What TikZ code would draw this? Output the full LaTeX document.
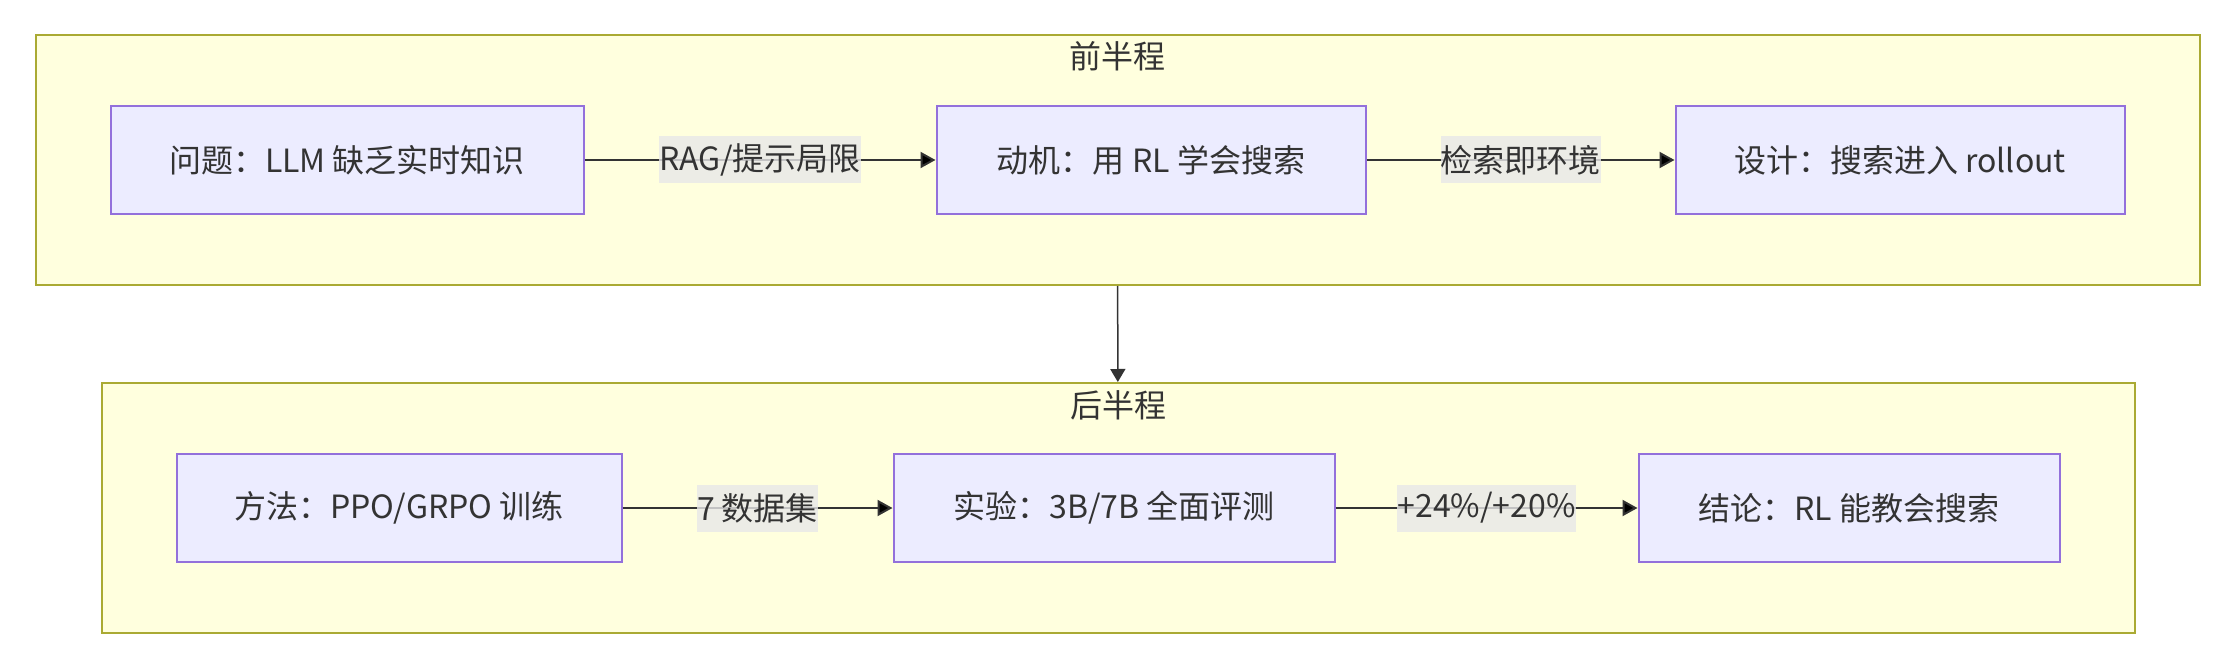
\documentclass[tikz,border=0pt]{standalone}
\usepackage{fontspec}
\setmainfont{Noto Sans CJK SC}
\usetikzlibrary{positioning,fit,backgrounds,arrows.meta}
\definecolor{clfill}{HTML}{FFFFDE}
\definecolor{cldraw}{HTML}{AAAA33}
\definecolor{ndfill}{HTML}{ECECFF}
\definecolor{nddraw}{HTML}{9370DB}
\definecolor{ink}{HTML}{333333}
\definecolor{lblbg}{HTML}{E8E8E8}

\begin{document}
\begin{tikzpicture}[x=1pt,y=-1pt,font=\fontsize{32}{40}\selectfont,text=ink,
		box/.style={draw=nddraw,fill=ndfill,line width=2pt,minimum height=108pt,inner sep=0pt},
		cluster/.style={draw=cldraw,fill=clfill,line width=2pt,inner xsep=74pt,inner ysep=70pt},
		lbl/.style={fill=lblbg,fill opacity=0.8,text opacity=1,inner xsep=0pt,inner ysep=0pt,minimum height=47pt},
		link/.style={draw=ink,line width=2pt,-{Triangle[length=15pt,width=16pt]}}]
		\useasboundingbox (0,0) rectangle (2238,668);
		% first half
		\node[box,minimum width=473pt](prob) at (347,160) {问题：LLM 缺乏实时知识};
		\node[box,minimum width=429pt](motiv)[right=351pt of prob] {动机：用 RL 学会搜索};
		\node[box,minimum width=449pt](design)[right=308pt of motiv] {设计：搜索进入 rollout};
		% second half
		\node[box,minimum width=445pt](meth) at (399,508) {方法：PPO/GRPO 训练};
		\node[box,minimum width=441pt](expt)[right=270pt of meth] {实验：3B/7B 全面评测};
		\node[box,minimum width=421pt](concl)[right=302pt of expt] {结论：RL 能教会搜索};
		\begin{scope}[on background layer]
			\node[cluster,fit=(prob)(design)](first) {};
			\node[cluster,fit=(meth)(concl)](second) {};
		\end{scope}
		\node(firstT) at ([yshift=-22pt]first.north) {前半程};
		\node(secondT) at ([yshift=-23pt]second.north) {后半程};
		\path[link]
		(prob) edge node[lbl] {RAG/提示局限} (motiv)
		(motiv) edge node[lbl] {检索即环境} (design)
		(meth) edge node[lbl] {7 数据集} (expt)
		(expt) edge node[lbl] {+24\%/+20\%} (concl);
		\draw[draw=ink,line width=1.5pt,-{Triangle[length=13pt,width=15pt]}] (first) -- (second);
\end{tikzpicture}
\end{document}
